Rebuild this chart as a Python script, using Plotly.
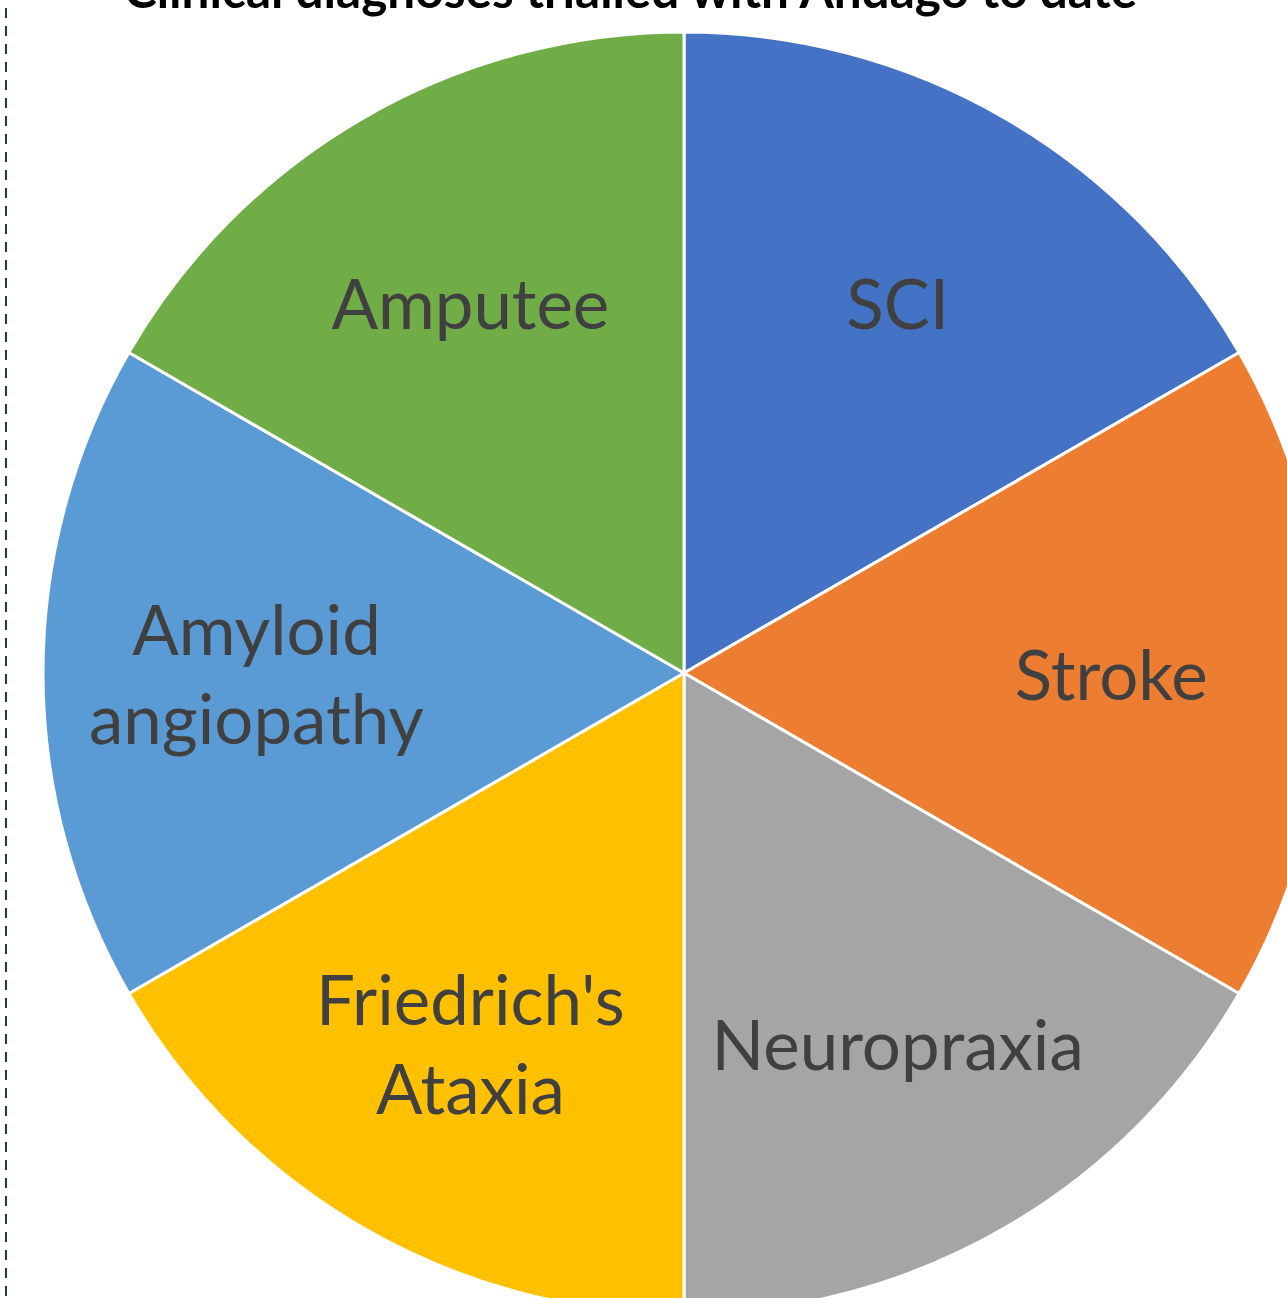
import plotly.graph_objects as go

# Data
categories = ["SCI", "Stroke", "Neuropraxia", "Friedrich's Ataxia", "Amyloid angiopathy", "Amputee"]
label_text = ["SCI", "Stroke", "Neuropraxia", "Friedrich's<br>Ataxia", "Amyloid<br>angiopathy", "Amputee"]
values = [1, 1, 1, 1, 1, 1]
colors = ["#4472C4", "#ED7D31", "#A5A5A5", "#FFC000", "#5B9BD5", "#70AD47"]
title_text = "Clinical diagnoses trialled with Andago to date"

W, H = 1368, 1314
R2 = 1282  # pie diameter in px

fig = go.Figure()
fig.add_trace(go.Pie(
    labels=categories,
    values=values,
    text=label_text,
    textinfo="text",
    textposition="inside",
    insidetextorientation="horizontal",
    sort=False,
    direction="clockwise",
    rotation=0,
    marker=dict(colors=colors, line=dict(color="white", width=3)),
    textfont=dict(family="Lato", size=69, color="#404040"),
    domain=dict(x=[0, 1], y=[0, R2 / H]),
    showlegend=False,
    hoverinfo="label",
))

fig.add_annotation(
    text="<b>" + title_text + "</b>",
    xref="paper", yref="paper",
    x=630 / W, y=1 - 21 / H,
    xanchor="center", yanchor="bottom",
    showarrow=False,
    font=dict(family="Lato", size=49.5, color="#000000"),
)

fig.add_shape(
    type="line", xref="paper", yref="paper",
    x0=6 / W, x1=6 / W, y0=0, y1=1,
    line=dict(color="#1F3864", width=2, dash="10px,8px"),
)

fig.update_layout(
    width=W, height=H,
    margin=dict(l=0, r=0, t=0, b=0),
    paper_bgcolor="white",
    plot_bgcolor="white",
)

fig.write_html(
    "out.html",
    post_script="document.body.style.margin='0';document.body.style.overflow='hidden';document.documentElement.style.overflow='hidden';",
)
